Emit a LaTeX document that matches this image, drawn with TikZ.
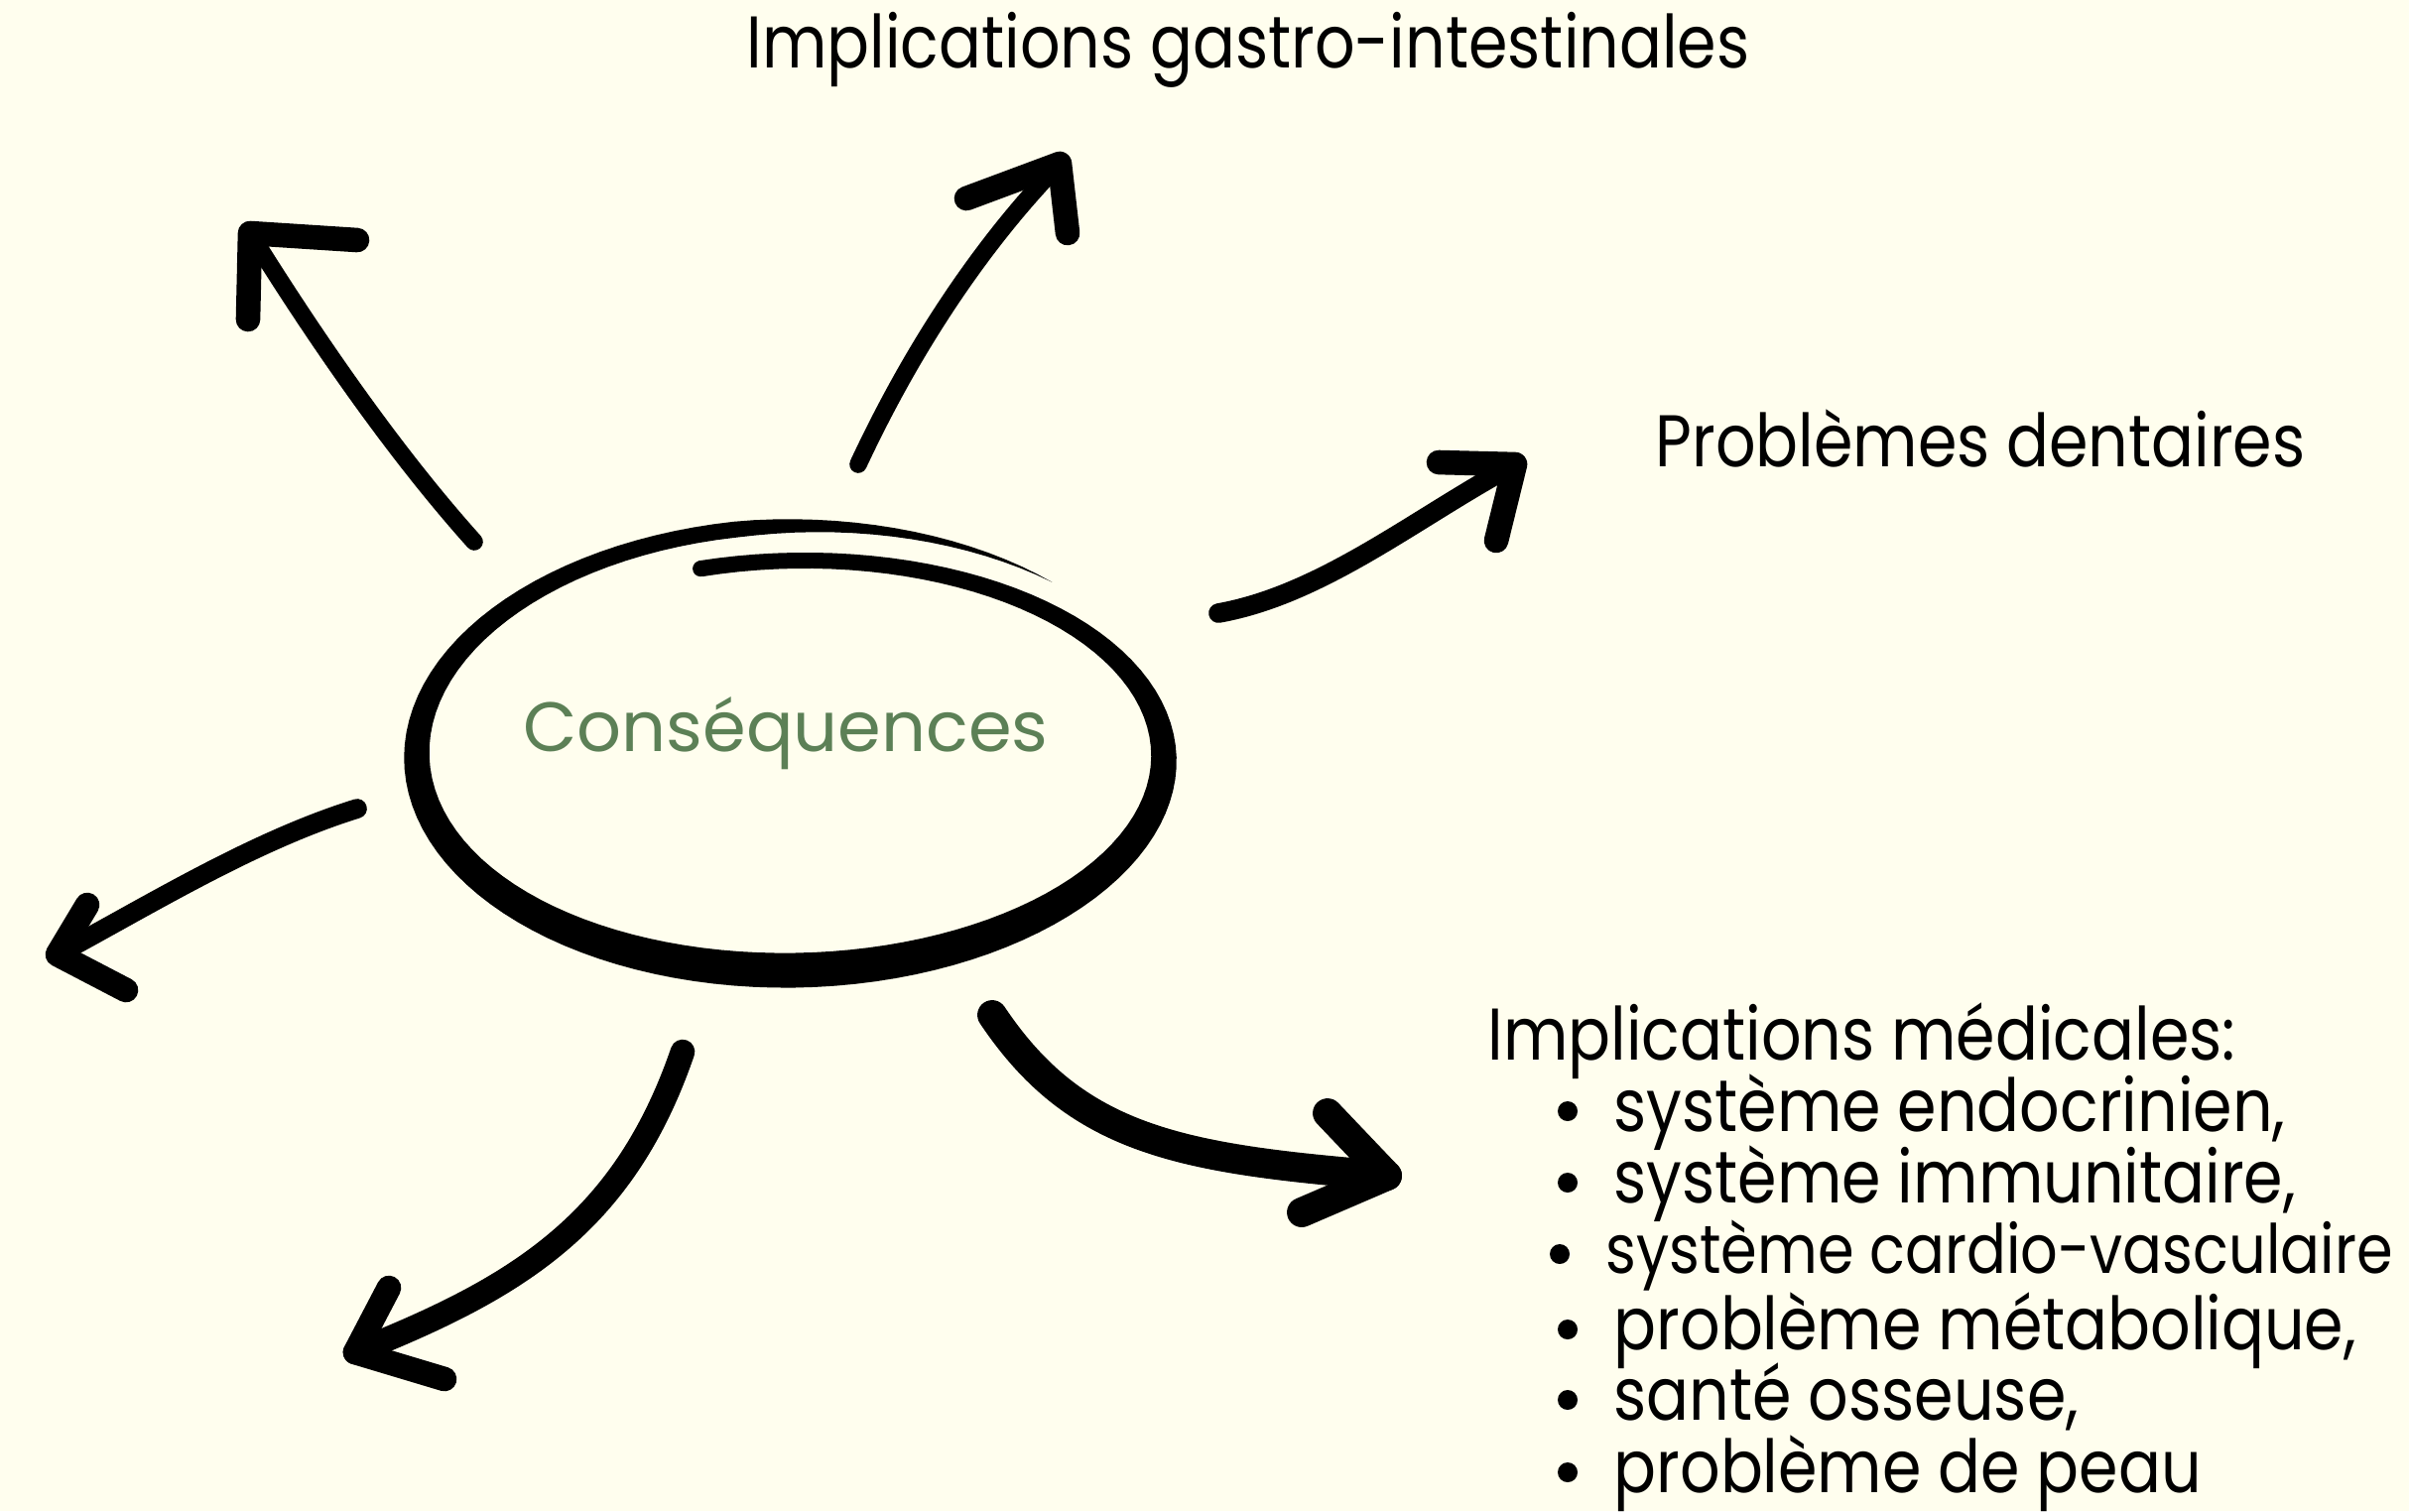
\documentclass[tikz,border=0pt]{standalone}
\usepackage{fontspec}
\setmainfont{Poppins}[FakeStretch=0.86]
\newfontfamily\consfont{Poppins}
\definecolor{paper}{RGB}{255,254,238}
\definecolor{sage}{RGB}{92,128,86}

\begin{document}
\begin{tikzpicture}[
                x=0.01cm, y=-0.01cm,
                declare function={
                    rxx(\t)=367.5+0.05*(\t-270);
                    ryy(\t)=197.75+0.0972*(\t-270);
                    wd(\t)=(25.5+9.5*cos(\t-450))*min(1,(672-\t)/50);
                },
                shaft/.style={line width=5pt, line cap=round},
                barb/.style={line width=7pt, line cap=round, line join=round},
                txt/.style={font=\fontsize{21}{25}\selectfont, inner sep=0pt},
                item/.style={txt, anchor=base west},
                dotmark/.style={radius=0.1cm}
            ]
                \fill[paper] (0,0) rectangle (2428,1523);
                \useasboundingbox (0,0) rectangle (2428,1523);

                % hand drawn loop round the centre
                \fill plot[domain=255:672, samples=140, variable=\t]
                        ({801+(rxx(\t)+wd(\t)/2)*cos(\t)}, {762.75+(ryy(\t)+wd(\t)/2)*sin(\t)})
                    -- plot[domain=672:255, samples=140, variable=\t]
                        ({801+(rxx(\t)-wd(\t)/2)*cos(\t)}, {762.75+(ryy(\t)-wd(\t)/2)*sin(\t)})
                    -- cycle;
                \fill ({801+rxx(255)*cos(255)}, {762.75+ryy(255)*sin(255)}) circle (8);

                \node[font=\consfont\fontsize{20}{24}\selectfont, text=sage, inner sep=0pt, anchor=base]
                    (cons) at (792,757) {Conséquences};

                \node[txt, anchor=base] (gastro) at (1258,68) {Implications gastro-intestinales};
                \node[txt, anchor=base west] (dent) at (1668,470) {Problèmes dentaires};
                \node[txt, anchor=base west] (med) at (1499,1068) {Implications médicales:};
                \node[item] (m1) at (1626,1140) {système endocrinien,};
                \node[item] (m2) at (1626,1212) {système immunitaire,};
                \node[item, font=\fontsize{19.5}{23}\selectfont] (m3) at (1618,1283) {système cardio-vasculaire};
                \node[item] (m4) at (1626,1360) {problème métabolique,};
                \node[item] (m5) at (1626,1431) {santé osseuse,};
                \node[item] (m6) at (1626,1504) {problème de peau};

                % bullets
                \fill[dotmark] ([shift={(-46,-20)}]m1.base west) circle;
                \fill[dotmark] ([shift={(-46,-20)}]m2.base west) circle;
                \fill[dotmark] ([shift={(-46,-19)}]m3.base west) circle;
                \fill[dotmark] ([shift={(-46,-20)}]m4.base west) circle;
                \fill[dotmark] ([shift={(-46,-20)}]m5.base west) circle;
                \fill[dotmark] ([shift={(-46,-20)}]m6.base west) circle;

                % arrow ends
                \coordinate (t1) at (478,546);  \coordinate (h1) at (252,235);
                \coordinate (t2) at (865,468);  \coordinate (h2) at (1068,165);
                \coordinate (t3) at (1228,618); \coordinate (h3) at (1527,468);
                \coordinate (t4) at (360,815);  \coordinate (h4) at (58,962);
                \coordinate (t5) at (688,1060); \coordinate (h5) at (358,1363);
                \coordinate (t6) at (1000,1023); \coordinate (h6) at (1398,1185);

                \draw[shaft] (t1) .. controls (390,448) and (308,325) .. (h1);
                \draw[barb] (360,242) -- (h1) -- (250,322);

                \draw[shaft] (t2) .. controls (920,350) and (990,245) .. (h2);
                \draw[barb] (974,200) -- (h2) -- (1076,235);

                \draw[shaft, line width=5.6pt] (t3) .. controls (1334,599) and (1428,521) .. (h3);
                \draw[barb] (1450,466) -- (h3) -- (1508,545);

                \draw[shaft, line width=5.6pt] (t4) .. controls (257,847) and (156,909) .. (h4);
                \draw[barb] (88,912) -- (h4) -- (127,998);

                \draw[shaft, line width=7pt] (t5) .. controls (628,1235) and (519,1299) .. (h5);
                \draw[barb] (392,1298) -- (h5) -- (448,1390);

                \draw[shaft, line width=8.5pt] (t6) .. controls (1085,1150) and (1190,1168) .. (h6);
                \draw[barb, line width=8.5pt] (1338,1122) -- (h6) -- (1312,1222);
            \end{tikzpicture}
\end{document}
